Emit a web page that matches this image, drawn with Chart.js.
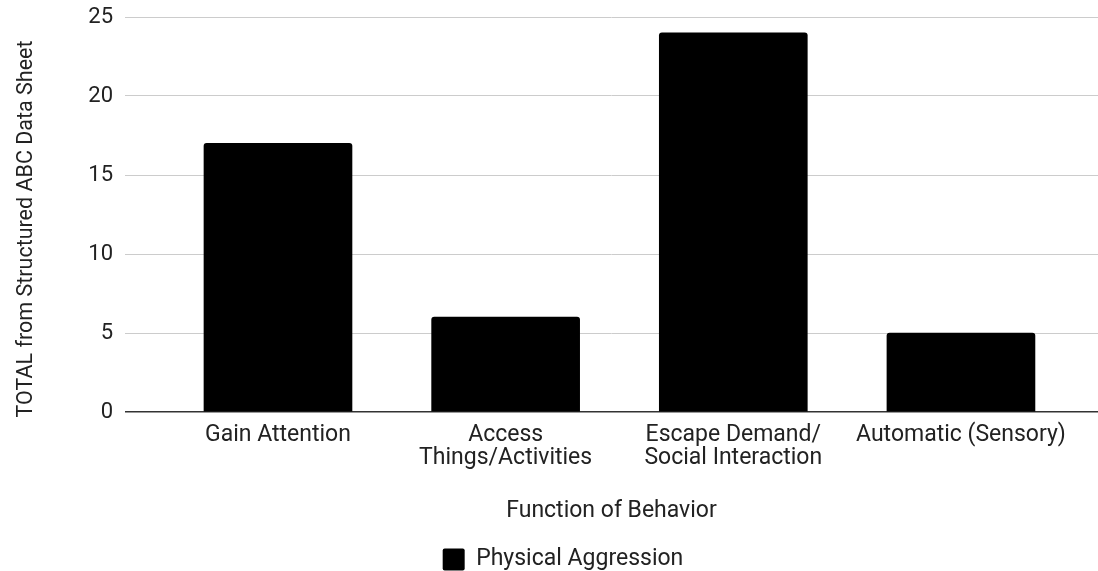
<!DOCTYPE html>
<html>
<head>
<meta charset="utf-8">
<script src="https://cdn.jsdelivr.net/npm/chart.js@4"></script>
<style>
  html, body { margin: 0; padding: 0; background: #ffffff; }
  #wrap { width: 1098px; height: 571px; position: relative; }
</style>
</head>
<body>
<div id="wrap"><canvas id="chart"></canvas></div>
<script>
// Categories (multi-line labels) and the values per category
const categories = [
  ['Gain Attention'],
  ['Access', 'Things/Activities'],
  ['Escape Demand/', 'Social Interaction'],
  ['Automatic (Sensory)']
];
const physicalAggression = [17, 6, 24, 5];
const yTickValues = [0, 5, 10, 15, 20, 25];
const seriesName = 'Physical Aggression';
const xTitle = 'Function of Behavior';
const yTitle = 'TOTAL from Structured ABC Data Sheet';

const FONT = 'Roboto, "Open Sans", sans-serif';
const TEXT = '#222222';

// Moves the bottom legend a little after layout
const legendShift = {
  id: 'legendShift',
  afterLayout(chart) {
    const lg = chart.legend;
    if (lg) {
      lg.left += 14; lg.right += 14;
      lg.top += 13; lg.bottom += 13;
    }
  }
};

// Vertical axis title, drawn beside the value axis
const yAxisTitle = {
  id: 'yAxisTitle',
  afterDraw(chart) {
    const ctx = chart.ctx;
    ctx.save();
    ctx.translate(27, 229);
    ctx.rotate(-Math.PI / 2);
    ctx.font = '21.5px ' + FONT;
    ctx.fillStyle = TEXT;
    ctx.textAlign = 'center';
    ctx.textBaseline = 'middle';
    ctx.fillText(yTitle, 0, 0);
    ctx.restore();
  }
};

new Chart(document.getElementById('chart'), {
  type: 'bar',
  data: {
    datasets: [{
      label: seriesName,
      data: physicalAggression.map((v, i) => ({ x: i, y: v })),
      backgroundColor: '#000000',
      borderWidth: 0,
      borderRadius: 3,
      barThickness: 148
    }]
  },
  options: {
    responsive: true,
    maintainAspectRatio: false,
    animation: false,
    layout: { padding: { top: 17, right: 0, left: 0, bottom: 3 } },
    plugins: {
      tooltip: { enabled: false },
      legend: {
        position: 'bottom',
        labels: {
          font: { family: FONT, size: 23 },
          color: TEXT,
          boxWidth: 22,
          boxHeight: 22,
          useBorderRadius: true,
          borderRadius: 2,
          padding: 10
        }
      }
    },
    scales: {
      x: {
        type: 'linear',
        offset: false,
        min: -0.672,
        max: 3.602,
        afterBuildTicks(scale) {
          scale.ticks = categories.map((_, i) => ({ value: i }));
        },
        afterFit(scale) { scale.height = 113; },
        grid: { display: false, offset: false },
        border: { display: false },
        ticks: {
          autoSkip: false,
          maxRotation: 0,
          padding: 4,
          color: TEXT,
          font: { family: FONT, size: 23, lineHeight: 1.0 },
          callback: (v) => categories[v]
        },
        title: {
          display: true,
          text: xTitle,
          color: TEXT,
          font: { family: FONT, size: 23 },
          padding: { top: 0, bottom: 0 }
        }
      },
      y: {
        min: 0,
        max: 25,
        afterBuildTicks(scale) {
          scale.ticks = yTickValues.map(v => ({ value: v }));
        },
        afterFit(scale) {
          scale.width = 125;
          scale.paddingTop = 0;
          scale.paddingBottom = 0;
        },
        border: { display: false },
        grid: {
          drawTicks: false,
          color: (ctx) => ctx.tick && ctx.tick.value === 0 ? '#333333' : '#cccccc',
          lineWidth: (ctx) => ctx.tick && ctx.tick.value === 0 ? 1.5 : 1
        },
        ticks: {
          padding: 12,
          color: TEXT,
          font: { family: FONT, size: 22 }
        },
        title: { display: false }
      }
    }
  },
  plugins: [legendShift, yAxisTitle]
});
</script>
</body>
</html>
